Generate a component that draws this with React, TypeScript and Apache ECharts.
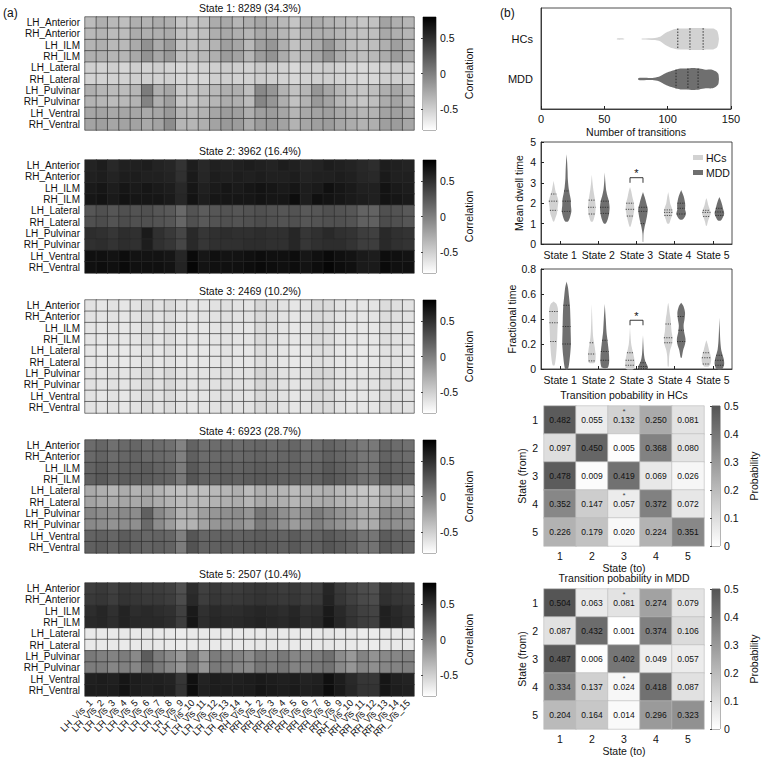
import React, { useEffect, useRef } from 'react';
import * as echarts from 'echarts';

const FONT = '"Liberation Sans", Arial, sans-serif';

const ROWS = ['LH_Anterior', 'RH_Anterior', 'LH_ILM', 'RH_ILM', 'LH_Lateral', 'RH_Lateral', 'LH_Pulvinar', 'RH_Pulvinar', 'LH_Ventral', 'RH_Ventral'];
const COLS = ['LH_Vis_1', 'LH_Vis_2', 'LH_Vis_3', 'LH_Vis_4', 'LH_Vis_5', 'LH_Vis_6', 'LH_Vis_7', 'LH_Vis_8', 'LH_Vis_9', 'LH_Vis_10', 'LH_Vis_11', 'LH_Vis_12', 'LH_Vis_13', 'LH_Vis_14',
  'RH_Vis_1', 'RH_Vis_2', 'RH_Vis_3', 'RH_Vis_4', 'RH_Vis_5', 'RH_Vis_6', 'RH_Vis_7', 'RH_Vis_8', 'RH_Vis_9', 'RH_Vis_10', 'RH_Vis_11', 'RH_Vis_12', 'RH_Vis_13', 'RH_Vis_14', 'RH_Vis_15'];
const STATE_TITLES = ['State 1: 8289 (34.3%)', 'State 2: 3962 (16.4%)', 'State 3: 2469 (10.2%)', 'State 4: 6923 (28.7%)', 'State 5: 2507 (10.4%)'];

const STATE1 = [
  [-0.38, -0.30, -0.36, -0.40, -0.30, -0.32, -0.28, -0.30, -0.44, -0.44, -0.40, -0.28, -0.26, -0.34, -0.30, -0.24, -0.30, -0.36, -0.44, -0.30, -0.28, -0.32, -0.36, -0.40, -0.44, -0.42, -0.22, -0.30, -0.34],
  [-0.36, -0.33, -0.38, -0.38, -0.28, -0.30, -0.30, -0.27, -0.42, -0.44, -0.40, -0.30, -0.26, -0.30, -0.34, -0.26, -0.28, -0.34, -0.42, -0.32, -0.30, -0.30, -0.34, -0.40, -0.42, -0.40, -0.26, -0.30, -0.34],
  [-0.33, -0.30, -0.36, -0.36, -0.27, -0.11, -0.27, -0.17, -0.42, -0.42, -0.39, -0.33, -0.20, -0.24, -0.36, -0.20, -0.14, -0.30, -0.42, -0.36, -0.27, -0.14, -0.30, -0.39, -0.42, -0.39, -0.30, -0.20, -0.30],
  [-0.30, -0.30, -0.34, -0.34, -0.26, -0.12, -0.25, -0.16, -0.40, -0.40, -0.36, -0.30, -0.18, -0.22, -0.34, -0.18, -0.12, -0.28, -0.40, -0.34, -0.25, -0.12, -0.28, -0.36, -0.40, -0.36, -0.28, -0.18, -0.28],
  [-0.50, -0.52, -0.50, -0.54, -0.50, -0.52, -0.50, -0.52, -0.56, -0.55, -0.52, -0.50, -0.48, -0.50, -0.52, -0.46, -0.48, -0.52, -0.56, -0.50, -0.50, -0.48, -0.52, -0.55, -0.56, -0.54, -0.50, -0.48, -0.50],
  [-0.52, -0.52, -0.52, -0.52, -0.50, -0.50, -0.52, -0.50, -0.55, -0.56, -0.54, -0.50, -0.50, -0.52, -0.52, -0.48, -0.50, -0.52, -0.55, -0.52, -0.50, -0.50, -0.52, -0.54, -0.56, -0.55, -0.50, -0.50, -0.52],
  [-0.30, -0.34, -0.38, -0.38, -0.34, 0.02, -0.30, -0.24, -0.46, -0.44, -0.40, -0.36, -0.30, -0.30, -0.40, -0.06, -0.14, -0.32, -0.42, -0.34, -0.14, -0.24, -0.34, -0.42, -0.44, -0.40, -0.30, -0.24, -0.34],
  [-0.32, -0.34, -0.38, -0.36, -0.32, -0.02, -0.30, -0.20, -0.44, -0.44, -0.38, -0.34, -0.28, -0.30, -0.38, -0.04, -0.14, -0.30, -0.42, -0.32, -0.16, -0.22, -0.34, -0.40, -0.44, -0.40, -0.28, -0.22, -0.34],
  [-0.24, -0.22, -0.26, -0.24, -0.24, -0.26, -0.24, -0.16, -0.34, -0.36, -0.32, -0.24, -0.18, -0.20, -0.30, -0.20, -0.18, -0.24, -0.34, -0.26, -0.22, -0.20, -0.26, -0.30, -0.34, -0.32, -0.22, -0.20, -0.26],
  [-0.22, -0.20, -0.24, -0.22, -0.22, -0.26, -0.22, -0.08, -0.34, -0.34, -0.30, -0.22, -0.16, -0.18, -0.28, -0.18, -0.16, -0.22, -0.32, -0.24, -0.20, -0.18, -0.24, -0.28, -0.32, -0.30, -0.20, -0.18, -0.24],
];
const STATE2 = [
  [0.58, 0.62, 0.55, 0.60, 0.60, 0.62, 0.58, 0.56, 0.48, 0.62, 0.55, 0.60, 0.58, 0.60, 0.62, 0.60, 0.58, 0.62, 0.60, 0.56, 0.58, 0.62, 0.60, 0.58, 0.55, 0.52, 0.62, 0.60, 0.58],
  [0.60, 0.62, 0.58, 0.62, 0.62, 0.60, 0.60, 0.58, 0.50, 0.64, 0.56, 0.62, 0.60, 0.62, 0.60, 0.62, 0.60, 0.60, 0.62, 0.58, 0.60, 0.60, 0.62, 0.60, 0.56, 0.54, 0.64, 0.60, 0.60],
  [0.64, 0.66, 0.62, 0.66, 0.64, 0.66, 0.64, 0.62, 0.55, 0.66, 0.60, 0.64, 0.66, 0.64, 0.66, 0.68, 0.66, 0.64, 0.66, 0.62, 0.64, 0.70, 0.66, 0.64, 0.60, 0.60, 0.68, 0.64, 0.62],
  [0.66, 0.68, 0.64, 0.68, 0.66, 0.66, 0.66, 0.64, 0.56, 0.68, 0.62, 0.66, 0.66, 0.66, 0.66, 0.68, 0.66, 0.66, 0.72, 0.62, 0.70, 0.68, 0.66, 0.64, 0.62, 0.60, 0.68, 0.66, 0.64],
  [0.26, 0.30, 0.26, 0.30, 0.28, 0.30, 0.26, 0.24, 0.14, 0.28, 0.22, 0.26, 0.28, 0.26, 0.28, 0.30, 0.28, 0.26, 0.28, 0.24, 0.26, 0.30, 0.28, 0.26, 0.18, 0.18, 0.30, 0.28, 0.24],
  [0.30, 0.32, 0.28, 0.32, 0.30, 0.30, 0.28, 0.26, 0.16, 0.30, 0.24, 0.28, 0.30, 0.28, 0.30, 0.32, 0.30, 0.28, 0.30, 0.26, 0.28, 0.30, 0.30, 0.28, 0.20, 0.20, 0.32, 0.30, 0.26],
  [0.52, 0.50, 0.46, 0.52, 0.50, 0.64, 0.50, 0.44, 0.36, 0.54, 0.46, 0.50, 0.52, 0.50, 0.50, 0.52, 0.50, 0.50, 0.56, 0.46, 0.50, 0.54, 0.50, 0.48, 0.42, 0.40, 0.54, 0.50, 0.48],
  [0.50, 0.52, 0.48, 0.52, 0.50, 0.62, 0.50, 0.46, 0.36, 0.54, 0.46, 0.50, 0.50, 0.50, 0.52, 0.52, 0.50, 0.50, 0.56, 0.46, 0.50, 0.52, 0.52, 0.48, 0.42, 0.42, 0.54, 0.50, 0.48],
  [0.70, 0.70, 0.68, 0.72, 0.68, 0.68, 0.68, 0.66, 0.56, 0.74, 0.66, 0.70, 0.68, 0.68, 0.70, 0.72, 0.70, 0.70, 0.72, 0.66, 0.70, 0.74, 0.70, 0.68, 0.64, 0.62, 0.72, 0.70, 0.68],
  [0.70, 0.72, 0.70, 0.74, 0.70, 0.70, 0.70, 0.68, 0.58, 0.76, 0.68, 0.70, 0.70, 0.70, 0.72, 0.74, 0.72, 0.70, 0.72, 0.68, 0.72, 0.76, 0.72, 0.70, 0.64, 0.64, 0.74, 0.70, 0.70],
];
const STATE3 = [
  [-0.62, -0.64, -0.62, -0.64, -0.62, -0.56, -0.62, -0.57, -0.63, -0.64, -0.63, -0.62, -0.60, -0.62, -0.63, -0.55, -0.58, -0.62, -0.64, -0.62, -0.56, -0.57, -0.62, -0.64, -0.64, -0.63, -0.58, -0.60, -0.62],
  [-0.62, -0.63, -0.62, -0.64, -0.62, -0.57, -0.62, -0.58, -0.63, -0.64, -0.62, -0.62, -0.60, -0.62, -0.62, -0.56, -0.58, -0.62, -0.64, -0.62, -0.57, -0.58, -0.62, -0.63, -0.64, -0.63, -0.58, -0.60, -0.62],
  [-0.63, -0.64, -0.63, -0.65, -0.63, -0.57, -0.63, -0.58, -0.64, -0.65, -0.64, -0.63, -0.61, -0.63, -0.64, -0.56, -0.59, -0.63, -0.65, -0.63, -0.57, -0.58, -0.63, -0.65, -0.65, -0.64, -0.59, -0.61, -0.63],
  [-0.63, -0.64, -0.63, -0.64, -0.63, -0.57, -0.63, -0.58, -0.64, -0.64, -0.63, -0.63, -0.61, -0.63, -0.63, -0.56, -0.59, -0.63, -0.64, -0.63, -0.57, -0.58, -0.63, -0.64, -0.65, -0.64, -0.59, -0.61, -0.63],
  [-0.64, -0.66, -0.64, -0.66, -0.64, -0.60, -0.64, -0.60, -0.65, -0.66, -0.65, -0.64, -0.62, -0.64, -0.65, -0.58, -0.61, -0.64, -0.66, -0.64, -0.59, -0.60, -0.64, -0.66, -0.66, -0.65, -0.61, -0.62, -0.64],
  [-0.64, -0.65, -0.64, -0.66, -0.64, -0.60, -0.64, -0.61, -0.65, -0.66, -0.64, -0.64, -0.62, -0.64, -0.64, -0.59, -0.61, -0.64, -0.66, -0.64, -0.60, -0.61, -0.64, -0.65, -0.66, -0.65, -0.61, -0.62, -0.64],
  [-0.61, -0.63, -0.61, -0.63, -0.61, -0.54, -0.61, -0.55, -0.62, -0.63, -0.62, -0.61, -0.59, -0.61, -0.62, -0.53, -0.56, -0.61, -0.63, -0.61, -0.54, -0.55, -0.61, -0.63, -0.63, -0.62, -0.56, -0.59, -0.61],
  [-0.61, -0.63, -0.61, -0.63, -0.61, -0.55, -0.61, -0.55, -0.62, -0.63, -0.61, -0.61, -0.59, -0.61, -0.62, -0.54, -0.57, -0.61, -0.63, -0.61, -0.55, -0.56, -0.61, -0.63, -0.63, -0.62, -0.57, -0.59, -0.61],
  [-0.62, -0.64, -0.62, -0.64, -0.62, -0.57, -0.62, -0.57, -0.63, -0.64, -0.63, -0.62, -0.60, -0.62, -0.63, -0.56, -0.58, -0.62, -0.64, -0.62, -0.56, -0.57, -0.62, -0.64, -0.64, -0.63, -0.58, -0.60, -0.62],
  [-0.62, -0.63, -0.62, -0.64, -0.62, -0.57, -0.62, -0.58, -0.63, -0.64, -0.63, -0.62, -0.60, -0.62, -0.62, -0.56, -0.58, -0.62, -0.64, -0.62, -0.57, -0.57, -0.62, -0.64, -0.64, -0.63, -0.58, -0.60, -0.62],
];
const STATE4 = [
  [0.12, 0.16, 0.10, 0.14, 0.16, 0.12, 0.12, 0.10, -0.02, 0.18, 0.10, 0.12, 0.14, 0.12, 0.14, 0.16, 0.12, 0.14, 0.16, 0.10, 0.12, 0.18, 0.14, 0.10, 0.04, 0.04, 0.16, 0.12, 0.10],
  [0.14, 0.18, 0.12, 0.16, 0.18, 0.14, 0.14, 0.12, 0.00, 0.20, 0.12, 0.14, 0.16, 0.14, 0.16, 0.18, 0.14, 0.16, 0.18, 0.12, 0.14, 0.20, 0.16, 0.12, 0.06, 0.06, 0.18, 0.14, 0.12],
  [0.18, 0.22, 0.16, 0.20, 0.20, 0.22, 0.18, 0.16, 0.02, 0.24, 0.16, 0.18, 0.20, 0.18, 0.20, 0.22, 0.20, 0.18, 0.20, 0.16, 0.18, 0.24, 0.20, 0.16, 0.08, 0.08, 0.22, 0.18, 0.16],
  [0.20, 0.24, 0.18, 0.22, 0.22, 0.22, 0.20, 0.18, 0.04, 0.26, 0.18, 0.20, 0.22, 0.20, 0.22, 0.24, 0.22, 0.20, 0.22, 0.18, 0.20, 0.26, 0.22, 0.18, 0.10, 0.10, 0.24, 0.20, 0.18],
  [-0.26, -0.30, -0.34, -0.28, -0.32, -0.26, -0.32, -0.38, -0.42, -0.40, -0.40, -0.36, -0.34, -0.30, -0.38, -0.30, -0.32, -0.34, -0.38, -0.34, -0.32, -0.30, -0.36, -0.40, -0.44, -0.44, -0.30, -0.32, -0.34],
  [-0.22, -0.26, -0.28, -0.24, -0.26, -0.22, -0.28, -0.32, -0.38, -0.36, -0.36, -0.32, -0.30, -0.28, -0.34, -0.26, -0.28, -0.30, -0.34, -0.30, -0.28, -0.26, -0.32, -0.36, -0.40, -0.40, -0.26, -0.28, -0.30],
  [-0.04, -0.08, -0.10, -0.06, -0.08, 0.20, -0.06, -0.16, -0.32, -0.30, -0.20, -0.14, -0.10, -0.08, -0.14, 0.06, 0.00, -0.10, -0.16, -0.10, 0.02, -0.04, -0.12, -0.18, -0.28, -0.28, -0.06, -0.08, -0.12],
  [-0.06, -0.08, -0.12, -0.08, -0.10, 0.14, -0.08, -0.18, -0.34, -0.32, -0.22, -0.14, -0.10, -0.10, -0.16, 0.04, -0.02, -0.10, -0.18, -0.12, 0.00, -0.06, -0.12, -0.20, -0.30, -0.28, -0.08, -0.10, -0.12],
  [0.18, 0.20, 0.16, 0.22, 0.18, 0.16, 0.18, 0.16, 0.00, 0.26, 0.16, 0.18, 0.20, 0.18, 0.20, 0.22, 0.20, 0.18, 0.22, 0.16, 0.18, 0.24, 0.20, 0.16, 0.08, 0.06, 0.22, 0.18, 0.16],
  [0.20, 0.22, 0.18, 0.24, 0.20, 0.18, 0.20, 0.18, 0.02, 0.28, 0.18, 0.20, 0.22, 0.20, 0.22, 0.24, 0.22, 0.20, 0.24, 0.18, 0.20, 0.26, 0.22, 0.18, 0.10, 0.08, 0.24, 0.20, 0.18],
];
const STATE5 = [
  [0.42, 0.44, 0.40, 0.46, 0.44, 0.42, 0.42, 0.40, 0.30, 0.52, 0.40, 0.44, 0.42, 0.42, 0.44, 0.46, 0.44, 0.42, 0.44, 0.40, 0.42, 0.56, 0.44, 0.38, 0.32, 0.30, 0.48, 0.44, 0.42],
  [0.44, 0.46, 0.42, 0.48, 0.46, 0.44, 0.44, 0.42, 0.32, 0.54, 0.42, 0.46, 0.44, 0.44, 0.46, 0.48, 0.46, 0.44, 0.46, 0.42, 0.44, 0.58, 0.46, 0.40, 0.34, 0.32, 0.50, 0.46, 0.44],
  [0.52, 0.56, 0.50, 0.58, 0.52, 0.54, 0.52, 0.50, 0.40, 0.64, 0.50, 0.54, 0.52, 0.52, 0.54, 0.56, 0.54, 0.52, 0.56, 0.50, 0.52, 0.64, 0.54, 0.46, 0.40, 0.38, 0.60, 0.54, 0.50],
  [0.54, 0.56, 0.52, 0.58, 0.54, 0.54, 0.54, 0.52, 0.42, 0.66, 0.52, 0.56, 0.54, 0.54, 0.56, 0.58, 0.56, 0.54, 0.58, 0.52, 0.54, 0.66, 0.56, 0.48, 0.42, 0.40, 0.60, 0.56, 0.52],
  [-0.66, -0.66, -0.66, -0.66, -0.66, -0.64, -0.66, -0.66, -0.68, -0.66, -0.66, -0.66, -0.66, -0.66, -0.66, -0.66, -0.64, -0.66, -0.66, -0.66, -0.66, -0.64, -0.66, -0.66, -0.68, -0.68, -0.66, -0.66, -0.66],
  [-0.66, -0.66, -0.66, -0.67, -0.66, -0.64, -0.66, -0.66, -0.68, -0.67, -0.66, -0.66, -0.66, -0.66, -0.66, -0.65, -0.65, -0.66, -0.67, -0.66, -0.66, -0.65, -0.66, -0.67, -0.68, -0.68, -0.66, -0.66, -0.66],
  [0.04, 0.00, -0.02, 0.02, -0.06, 0.22, 0.02, -0.06, -0.16, 0.06, -0.16, 0.02, 0.00, -0.02, -0.08, 0.04, 0.00, 0.04, -0.04, -0.02, 0.02, 0.10, -0.08, -0.16, -0.02, -0.12, -0.06, -0.04, -0.02],
  [0.02, 0.02, -0.04, 0.00, -0.04, 0.14, 0.04, -0.04, -0.14, 0.04, -0.14, 0.04, 0.02, -0.04, -0.06, 0.06, 0.02, 0.06, -0.02, 0.00, 0.04, 0.08, -0.06, -0.14, -0.04, -0.10, -0.04, -0.02, 0.00],
  [0.60, 0.62, 0.60, 0.66, 0.62, 0.60, 0.60, 0.58, 0.46, 0.70, 0.58, 0.62, 0.60, 0.60, 0.62, 0.64, 0.62, 0.60, 0.62, 0.58, 0.60, 0.70, 0.62, 0.54, 0.46, 0.46, 0.66, 0.60, 0.58],
  [0.62, 0.62, 0.62, 0.68, 0.62, 0.60, 0.62, 0.60, 0.48, 0.72, 0.60, 0.62, 0.62, 0.62, 0.62, 0.66, 0.64, 0.62, 0.64, 0.60, 0.62, 0.72, 0.64, 0.56, 0.48, 0.48, 0.66, 0.62, 0.60],
];
const STATES = [STATE1, STATE2, STATE3, STATE4, STATE5];

// Number of transitions: [value, relative half-width]
const TRANS_HC = [[60, 0.05], [65, 0.05], [66, 0], [79, 0], [80, 0.05], [90, 0.1], [94, 0.2], [97, 0.45], [100, 0.65], [104, 0.85], [108, 0.95], [114, 0.95], [120, 1], [126, 1], [132, 0.95], [136, 0.95], [139, 0.75], [140, 0.4], [140.5, 0]];
const TRANS_MDD = [[77, 0.1], [88, 0.1], [93, 0.2], [97, 0.45], [101, 0.65], [105, 0.8], [110, 0.95], [115, 0.95], [120, 1], [125, 0.95], [130, 0.85], [135, 0.85], [138, 0.7], [140, 0.45], [140.5, 0]];
const TRANS_HC_Q = [108, 117.6, 128];
const TRANS_MDD_Q = [106.6, 116, 124];

// Mean dwell time, per state: [value, relative half-width]
const DWELL_HC = [
  [[1.1, 0.1], [1.3, 0.4], [1.5, 0.7], [1.7, 0.8], [1.9, 0.9], [2.1, 1], [2.3, 0.8], [2.5, 0.5], [2.7, 0.3], [2.9, 0.15], [3.1, 0]],
  [[1.1, 0.2], [1.3, 0.5], [1.5, 0.7], [1.8, 0.8], [2.1, 0.7], [2.4, 0.5], [2.7, 0.3], [3.0, 0.15], [3.4, 0]],
  [[0.85, 0.1], [1.1, 0.4], [1.4, 0.7], [1.7, 0.9], [2.0, 0.8], [2.3, 0.5], [2.6, 0.25], [2.8, 0]],
  [[1.0, 0.2], [1.2, 0.5], [1.4, 0.8], [1.6, 0.9], [1.8, 0.7], [2.0, 0.4], [2.3, 0.2], [2.55, 0]],
  [[0.9, 0.1], [1.1, 0.3], [1.3, 0.6], [1.5, 0.9], [1.7, 0.7], [1.9, 0.4], [2.1, 0.2], [2.25, 0]],
];
const DWELL_MDD = [
  [[1.1, 0.3], [1.3, 0.7], [1.6, 1], [1.9, 0.9], [2.2, 0.85], [2.5, 0.6], [2.8, 0.4], [3.2, 0.25], [3.6, 0.2], [4.0, 0.12], [4.4, 0]],
  [[1.0, 0.2], [1.2, 0.6], [1.5, 0.9], [1.8, 1], [2.1, 0.85], [2.4, 0.5], [2.7, 0.25], [3.1, 0.1], [3.5, 0]],
  [[0.1, 0.05], [0.5, 0.1], [0.8, 0.3], [1.1, 0.6], [1.4, 0.85], [1.7, 1], [2.0, 0.7], [2.3, 0.35], [2.55, 0]],
  [[1.2, 0.3], [1.35, 0.8], [1.5, 1], [1.7, 0.8], [1.9, 0.85], [2.1, 0.75], [2.35, 0.5], [2.65, 0]],
  [[1.15, 0.3], [1.3, 0.7], [1.5, 1], [1.7, 0.8], [1.9, 0.6], [2.1, 0.35], [2.3, 0]],
];
const DWELL_HC_Q = [[1.65, 2.1, 2.45], [1.47, 1.8, 2.15], [1.37, 1.7, 2.0], [1.4, 1.55, 1.67], [1.35, 1.55, 1.65]];
const DWELL_MDD_Q = [[1.6, 2.1, 2.6], [1.5, 1.8, 2.1], [1.0, 1.6, 1.8], [1.47, 1.75, 2.0], [1.4, 1.57, 1.75]];

// Fractional time
const FRAC_HC = [
  [[0.03, 0.2], [0.1, 0.5], [0.2, 0.7], [0.3, 0.8], [0.4, 0.9], [0.48, 0.9], [0.52, 0.6], [0.54, 0]],
  [[0.05, 0.6], [0.1, 0.8], [0.15, 0.7], [0.2, 0.5], [0.25, 0.3], [0.3, 0.2], [0.4, 0.1], [0.52, 0]],
  [[0, 0.8], [0.04, 1], [0.08, 0.9], [0.12, 0.7], [0.16, 0.45], [0.2, 0.25], [0.27, 0.1], [0.34, 0]],
  [[0.02, 0.1], [0.1, 0.2], [0.15, 0.4], [0.2, 0.8], [0.25, 0.9], [0.3, 0.7], [0.35, 0.6], [0.4, 0.5], [0.45, 0.3], [0.5, 0.15], [0.53, 0]],
  [[0.02, 0.5], [0.05, 0.9], [0.08, 1], [0.12, 0.8], [0.16, 0.5], [0.2, 0.25], [0.23, 0]],
];
const FRAC_MDD = [
  [[0.0, 0.3], [0.1, 0.7], [0.2, 0.9], [0.3, 0.85], [0.4, 0.8], [0.5, 0.7], [0.58, 0.5], [0.65, 0.3], [0.7, 0]],
  [[0.01, 0.6], [0.05, 0.9], [0.1, 0.9], [0.15, 0.8], [0.2, 0.65], [0.25, 0.5], [0.3, 0.35], [0.4, 0.2], [0.52, 0]],
  [[0, 1], [0.02, 1], [0.05, 0.6], [0.08, 0.35], [0.12, 0.2], [0.18, 0.1], [0.27, 0]],
  [[0.09, 0.1], [0.15, 0.4], [0.2, 0.8], [0.24, 0.9], [0.3, 0.6], [0.35, 0.5], [0.4, 0.7], [0.45, 0.8], [0.5, 0.5], [0.53, 0]],
  [[0, 0.6], [0.04, 1], [0.08, 0.9], [0.12, 0.6], [0.16, 0.35], [0.22, 0.2], [0.3, 0.1], [0.41, 0]],
];
const FRAC_HC_Q = [[0.22, 0.37, 0.46], [0.065, 0.12, 0.21], [0.03, 0.07, 0.13], [0.21, 0.25, 0.36], [0.04, 0.09, 0.13]];
const FRAC_MDD_Q = [[0.2, 0.34, 0.51], [0.07, 0.14, 0.23], [0.003, 0.02, 0.05], [0.22, 0.31, 0.42], [0.03, 0.07, 0.11]];

const DWELL_SIG = [3, 3.25, 3.0];
const FRAC_SIG = [3, 0.39, 0.35];

const STATE_LABELS = ['1', '2', '3', '4', '5'];
const TP_HC = [
  [0.482, 0.055, 0.132, 0.250, 0.081],
  [0.097, 0.450, 0.005, 0.368, 0.080],
  [0.478, 0.009, 0.419, 0.069, 0.026],
  [0.352, 0.147, 0.057, 0.372, 0.072],
  [0.226, 0.179, 0.020, 0.224, 0.351],
];
const TP_MDD = [
  [0.504, 0.063, 0.081, 0.274, 0.079],
  [0.087, 0.432, 0.001, 0.374, 0.106],
  [0.487, 0.006, 0.402, 0.049, 0.057],
  [0.334, 0.137, 0.024, 0.418, 0.087],
  [0.204, 0.164, 0.014, 0.296, 0.323],
];
const TP_STARS = [[2, 0], [2, 3]];

const HC_COLOR = '#d2d2d2';
const MDD_COLOR = '#6f6f6f';

function interp(prof: number[][], v: number) {
  if (v <= prof[0][0]) return prof[0][1];
  for (let i = 1; i < prof.length; i++) {
    if (v <= prof[i][0]) {
      const [a, wa] = prof[i - 1];
      const [b, wb] = prof[i];
      return wa + (wb - wa) * (v - a) / (b - a);
    }
  }
  return prof[prof.length - 1][1];
}

export default function App() {
  const ref = useRef<HTMLDivElement>(null);
  useEffect(() => {
    document.body.style.margin = '0';
    const chart = echarts.init(ref.current!, null, { renderer: 'svg' });

    const grid: any[] = [];
    const xAxis: any[] = [];
    const yAxis: any[] = [];
    const series: any[] = [];
    const graphic: any[] = [];
    const txt = { fontFamily: FONT, color: '#111' };

    const HM_TOP = [17, 160, 300, 440, 583];
    const HM_H = 113;
    const hmSeriesIdx: number[] = [];

    const addColorbar = (left: number, top: number, width: number, height: number, min: number, max: number, ticks: number[], fmt: (v: number) => string, name: string, nameGap: number, topColor: string) => {
      const gi = grid.length;
      grid.push({ left, top, width, height, show: true, borderColor: '#444', borderWidth: 0.8, backgroundColor: 'transparent' });
      xAxis.push({ gridIndex: gi, type: 'value', min: 0, max: 1, show: false });
      yAxis.push({
        gridIndex: gi, type: 'value', min, max, position: 'right',
        axisLine: { show: false }, splitLine: { show: false },
        axisTick: { show: true, inside: true, length: 2, customValues: ticks, lineStyle: { color: '#444' } },
        axisLabel: { customValues: ticks, formatter: fmt, fontSize: 10.5, margin: 4, ...txt },
        name, nameLocation: 'middle', nameRotate: 90, nameGap, nameTextStyle: { fontSize: 10.5, ...txt },
      });
      series.push({
        type: 'custom', xAxisIndex: gi, yAxisIndex: gi, data: [[0, 0]], silent: true, clip: false,
        renderItem: (_p: any, api: any) => {
          const a = api.coord([0, max]);
          const b = api.coord([1, min]);
          return {
            type: 'rect', shape: { x: a[0], y: a[1], width: b[0] - a[0], height: b[1] - a[1] },
            style: { fill: new echarts.graphic.LinearGradient(0, 0, 0, 1, [{ offset: 0, color: topColor }, { offset: 1, color: '#ffffff' }]) },
          };
        },
      });
    };

    STATES.forEach((st, s) => {
      const gi = grid.length;
      grid.push({ left: 85, top: HM_TOP[s], width: 329, height: HM_H });
      xAxis.push({
        gridIndex: gi, type: 'category', data: COLS,
        axisLine: { show: false }, axisTick: { show: false },
        axisLabel: { show: s === 4, rotate: 45, interval: 0, fontSize: 9.5, margin: 5, ...txt },
      });
      yAxis.push({
        gridIndex: gi, type: 'category', data: ROWS, inverse: true,
        axisLine: { show: false }, axisTick: { show: false },
        axisLabel: { interval: 0, fontSize: 10, margin: 5, ...txt },
      });
      const data: any[] = [];
      st.forEach((row, r) => row.forEach((v, c) => data.push([c, r, v])));
      hmSeriesIdx.push(series.length);
      series.push({
        type: 'heatmap', xAxisIndex: gi, yAxisIndex: gi, data,
        itemStyle: { borderColor: '#2a2a2a', borderWidth: 0.6 },
        emphasis: { disabled: true },
      });
      graphic.push({ type: 'text', x: 250, y: HM_TOP[s] - 9, style: { text: STATE_TITLES[s], font: `10.5px ${FONT}`, fill: '#111', align: 'center', verticalAlign: 'middle' } });
      addColorbar(423, HM_TOP[s], 13, HM_H, -0.8, 0.8, [-0.5, 0, 0.5], (v: number) => (v === 0 ? '0' : String(v)), 'Correlation', 27, '#000000');
    });

    // violin renderers
    const hViolin = (prof: number[][], qs: number[], yc: number, color: string, maxPx: number) => (_p: any, api: any) => {
      const top = prof.map(([v, d]) => { const c = api.coord([v, yc]); return [c[0], c[1] - d * maxPx]; });
      const bot = prof.slice().reverse().map(([v, d]) => { const c = api.coord([v, yc]); return [c[0], c[1] + d * maxPx]; });
      const children: any[] = [{ type: 'polygon', shape: { points: top.concat(bot), smooth: 0.25 }, style: { fill: color } }];
      qs.forEach((q) => {
        const d = interp(prof, q) * maxPx;
        const c = api.coord([q, yc]);
        children.push({ type: 'line', shape: { x1: c[0], y1: c[1] - d, x2: c[0], y2: c[1] + d }, style: { stroke: '#222', lineWidth: 0.9, lineDash: [1.5, 1.5] } });
      });
      return { type: 'group', children };
    };
    const vViolins = (profs: number[][][], qss: number[][], offset: number, color: string, maxPx: number) => (p: any, api: any) => {
      const i = p.dataIndex;
      const prof = profs[i];
      const xc = i + 1 + offset;
      const left = prof.map(([v, d]) => { const c = api.coord([xc, v]); return [c[0] - d * maxPx, c[1]]; });
      const right = prof.slice().reverse().map(([v, d]) => { const c = api.coord([xc, v]); return [c[0] + d * maxPx, c[1]]; });
      const children: any[] = [{ type: 'polygon', shape: { points: left.concat(right), smooth: 0.25 }, style: { fill: color } }];
      qss[i].forEach((q) => {
        const d = Math.max(interp(prof, q) * maxPx, 1);
        const c = api.coord([xc, q]);
        children.push({ type: 'line', shape: { x1: c[0] - d, y1: c[1], x2: c[0] + d, y2: c[1] }, style: { stroke: '#222', lineWidth: 0.8, lineDash: [1.2, 1.2] } });
      });
      return { type: 'group', children };
    };
    const sigBracket = (sig: number[]) => (_p: any, api: any) => {
      const a = api.coord([sig[0] - 0.17, sig[1]]);
      const b = api.coord([sig[0] + 0.17, sig[1]]);
      const a2 = api.coord([sig[0] - 0.17, sig[2]]);
      const b2 = api.coord([sig[0] + 0.17, sig[2]]);
      return {
        type: 'group', children: [
          { type: 'polyline', shape: { points: [a2, a, b, b2] }, style: { stroke: '#222', lineWidth: 0.9, fill: 'none' } },
          { type: 'text', x: (a[0] + b[0]) / 2, y: a[1] + 1, style: { text: '*', font: `11px ${FONT}`, fill: '#111', align: 'center', verticalAlign: 'bottom' } },
        ],
      };
    };

    const axisCommon = {
      axisLine: { show: true, lineStyle: { color: '#222', width: 0.8 } },
      splitLine: { show: false },
    };

    // Number of transitions
    {
      const gi = grid.length;
      grid.push({ left: 541, top: 8, width: 190, height: 101, show: true, borderColor: '#222', borderWidth: 0.8 });
      xAxis.push({
        gridIndex: gi, type: 'value', min: 0, max: 150, interval: 50, ...axisCommon,
        axisTick: { inside: true, length: 3, lineStyle: { color: '#222' } },
        axisLabel: { fontSize: 11, margin: 4, ...txt },
        name: 'Number of transitions', nameLocation: 'middle', nameGap: 17, nameTextStyle: { fontSize: 10.5, ...txt },
      });
      yAxis.push({
        gridIndex: gi, type: 'value', min: 0.25, max: 2.775, ...axisCommon,
        axisTick: { show: false },
        axisLabel: { customValues: [1, 2], formatter: (v: number) => (v === 2 ? 'HCs' : 'MDD'), fontSize: 11, margin: 8, ...txt },
      });
      series.push({ type: 'custom', name: 'HCs', xAxisIndex: gi, yAxisIndex: gi, data: [[0, 0]], clip: false, silent: true, itemStyle: { color: HC_COLOR }, renderItem: hViolin(TRANS_HC, TRANS_HC_Q, 2, HC_COLOR, 11) });
      series.push({ type: 'custom', name: 'MDD', xAxisIndex: gi, yAxisIndex: gi, data: [[0, 0]], clip: false, silent: true, itemStyle: { color: MDD_COLOR }, renderItem: hViolin(TRANS_MDD, TRANS_MDD_Q, 1, MDD_COLOR, 11) });
    }

    const addViolinPanel = (top: number, height: number, ymax: number, interval: number, fmt: (v: number) => string, name: string, nameGap: number, hc: number[][][], hcq: number[][], mdd: number[][][], mddq: number[][], sig: number[]) => {
      const gi = grid.length;
      grid.push({ left: 541, top, width: 191, height, show: true, borderColor: '#222', borderWidth: 0.8 });
      xAxis.push({
        gridIndex: gi, type: 'value', min: 0.5, max: 5.5, ...axisCommon,
        axisTick: { inside: true, length: 3, customValues: [1, 2, 3, 4, 5], lineStyle: { color: '#222' } },
        axisLabel: { customValues: [1, 2, 3, 4, 5], formatter: (v: number) => 'State ' + v, fontSize: 10.5, margin: 5, ...txt },
      });
      yAxis.push({
        gridIndex: gi, type: 'value', min: 0, max: ymax, interval, ...axisCommon,
        axisTick: { inside: true, length: 3, lineStyle: { color: '#222' } },
        axisLabel: { formatter: fmt, fontSize: 10.5, margin: 5, ...txt },
        name, nameLocation: 'middle', nameGap, nameTextStyle: { fontSize: 10.5, ...txt },
      });
      const data5 = [[1, 0], [2, 0], [3, 0], [4, 0], [5, 0]];
      series.push({ type: 'custom', name: 'HCs', xAxisIndex: gi, yAxisIndex: gi, data: data5, clip: false, silent: true, itemStyle: { color: HC_COLOR }, renderItem: vViolins(hc, hcq, -0.17, HC_COLOR, 4.8) });
      series.push({ type: 'custom', name: 'MDD', xAxisIndex: gi, yAxisIndex: gi, data: data5, clip: false, silent: true, itemStyle: { color: MDD_COLOR }, renderItem: vViolins(mdd, mddq, 0.17, MDD_COLOR, 4.8) });
      series.push({ type: 'custom', xAxisIndex: gi, yAxisIndex: gi, data: [[sig[0], sig[1]]], clip: false, silent: true, renderItem: sigBracket(sig) });
    };
    addViolinPanel(142, 102, 5, 1, (v: number) => String(v), 'Mean dwell time', 17, DWELL_HC, DWELL_HC_Q, DWELL_MDD, DWELL_MDD_Q, DWELL_SIG);
    addViolinPanel(269, 100, 0.8, 0.2, (v: number) => (v === 0 ? '0' : v.toFixed(1)), 'Fractional time', 24, FRAC_HC, FRAC_HC_Q, FRAC_MDD, FRAC_MDD_Q, FRAC_SIG);

    // Transition matrices
    const tpSeriesIdx: number[] = [];
    const addMatrix = (top: number, mat: number[][], title: string) => {
      const gi = grid.length;
      grid.push({ left: 544, top, width: 160, height: 140 });
      xAxis.push({
        gridIndex: gi, type: 'category', data: STATE_LABELS, axisLine: { show: false }, axisTick: { show: false },
        axisLabel: { fontSize: 10.5, margin: 4, ...txt },
        name: 'State (to)', nameLocation: 'middle', nameGap: 16, nameTextStyle: { fontSize: 10.5, ...txt },
      });
      yAxis.push({
        gridIndex: gi, type: 'category', data: STATE_LABELS, inverse: true, axisLine: { show: false }, axisTick: { show: false },
        axisLabel: { fontSize: 10.5, margin: 6, ...txt },
        name: 'State (from)', nameLocation: 'middle', nameGap: 17, nameTextStyle: { fontSize: 10.5, ...txt },
      });
      const data: any[] = [];
      mat.forEach((row, r) => row.forEach((v, c) => data.push([c, r, v])));
      tpSeriesIdx.push(series.length);
      series.push({
        type: 'heatmap', xAxisIndex: gi, yAxisIndex: gi, data,
        itemStyle: { borderColor: '#bbbbbb', borderWidth: 0.6 },
        label: { show: true, formatter: (p: any) => p.value[2].toFixed(3), fontSize: 8.5, lineHeight: 9, color: '#111', fontFamily: FONT },
        emphasis: { disabled: true },
      });
      series.push({
        type: 'scatter', xAxisIndex: gi, yAxisIndex: gi, data: TP_STARS, symbolSize: 0, silent: true,
        label: { show: true, formatter: '*', position: 'inside', offset: [0, -9], fontSize: 8, lineHeight: 7, color: '#111', fontFamily: FONT },
      });
      graphic.push({ type: 'text', x: 624, y: top - 11, style: { text: title, font: `10.5px ${FONT}`, fill: '#111', align: 'center', verticalAlign: 'middle' } });
      addColorbar(712, top, 8, 140, 0, 0.5, [0, 0.1, 0.2, 0.3, 0.4, 0.5], (v: number) => (v === 0 ? '0' : v.toFixed(1)), 'Probability', 28, '#555555');
    };
    addMatrix(406, TP_HC, 'Transition pobability in HCs');
    addMatrix(589, TP_MDD, 'Transition pobability in MDD');

    graphic.push({ type: 'text', x: 3, y: 13, style: { text: '(a)', font: `12px ${FONT}`, fill: '#111', align: 'left', verticalAlign: 'middle' } });
    graphic.push({ type: 'text', x: 500, y: 13, style: { text: '(b)', font: `12px ${FONT}`, fill: '#111', align: 'left', verticalAlign: 'middle' } });

    chart.setOption({
      animation: false,
      backgroundColor: '#ffffff',
      textStyle: { fontFamily: FONT },
      grid, xAxis, yAxis, series, graphic,
      legend: {
        data: [{ name: 'HCs', icon: 'rect' }, { name: 'MDD', icon: 'rect' }],
        orient: 'vertical', left: 688, top: 147, itemWidth: 10, itemHeight: 5, itemGap: 4, selectedMode: false,
        textStyle: { fontSize: 10.5, color: '#111', fontFamily: FONT, padding: [0, 0, 0, -2] },
      },
      visualMap: [
        { type: 'continuous', show: false, seriesIndex: hmSeriesIdx, min: -0.8, max: 0.8, inRange: { color: ['#ffffff', '#000000'] } },
        { type: 'continuous', show: false, seriesIndex: tpSeriesIdx, min: 0, max: 0.5, inRange: { color: ['#ffffff', '#555555'] } },
      ],
    });
    return () => chart.dispose();
  }, []);
  return <div ref={ref} style={{ width: 768, height: 757 }} />;
}
